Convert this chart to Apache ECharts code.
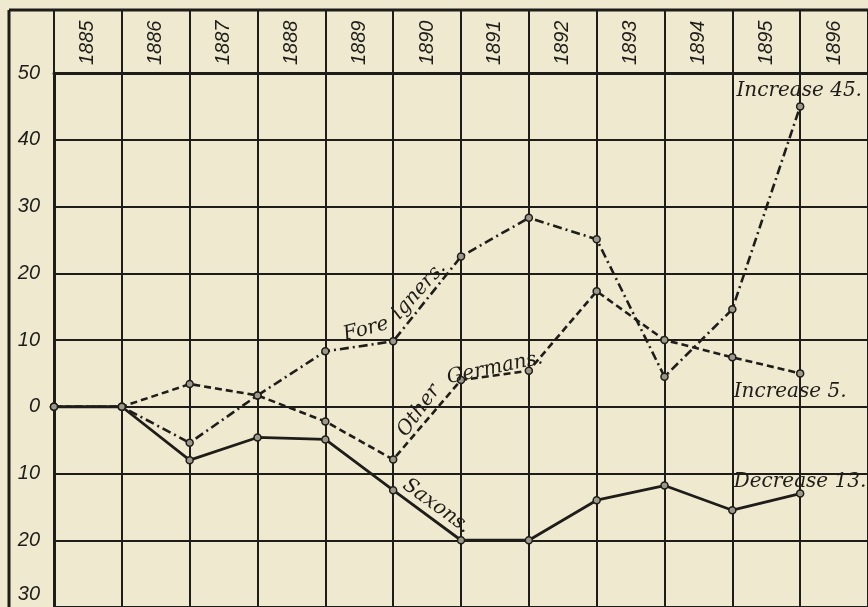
<!DOCTYPE html>
<html>
<head>
<meta charset="utf-8">
<script src="https://cdn.jsdelivr.net/npm/echarts@6/dist/echarts.min.js"></script>
<style>
  html, body { margin: 0; padding: 0; background: #efe9cf; }
  #chart { width: 868px; height: 607px; }
</style>
</head>
<body>
<div id="chart"></div>
<script>
// Yearly change, in thousands, by population group (1885 = 0)
const years = ['1885', '1886', '1887', '1888', '1889', '1890', '1891', '1892', '1893', '1894', '1895', '1896'];
const saxons = [0, 0, -8, -4.6, -4.9, -12.5, -20, -20, -14, -11.8, -15.5, -13];
const otherGermans = [0, 0, 3.4, 1.7, -2.2, -7.9, 4, 5.4, 17.3, 10, 7.4, 5];
const foreigners = [0, 0, -5.4, 1.7, 8.3, 9.8, 22.5, 28.3, 25.1, 4.5, 14.6, 45];
const yMin = -30, yMax = 50, yStep = 10;

const ink = '#1f1d19';
const paper = '#efe9cf';
const serifItalic = { fontFamily: 'DejaVu Serif', fontStyle: 'italic', fontSize: 20, color: ink };

const toPoints = arr => arr.map((v, i) => [i, v]);

// Text written along the lines, placed in data space
function note(text, x, y, rotate, position) {
  return {
    name: text,
    coord: [x, y],
    symbol: 'circle',
    symbolSize: 0,
    label: Object.assign({
      show: true,
      formatter: '{b}',
      position: position || 'inside',
      distance: 0,
      rotate: rotate || 0
    }, serifItalic)
  };
}

const markerStyle = { color: '#9c998b', borderColor: ink, borderWidth: 1.5 };

const chart = echarts.init(document.getElementById('chart'), null, { renderer: 'canvas' });
chart.setOption({
  backgroundColor: paper,
  animation: false,
  grid: { left: 54, top: 73, right: -3, bottom: -4 },
  xAxis: [
    {
      type: 'value', min: 0, max: years.length, interval: 1,
      axisLine: { show: false }, axisTick: { show: false }, axisLabel: { show: false },
      splitLine: { show: true, lineStyle: { color: ink, width: 2 } }
    },
    {
      type: 'category', data: years, position: 'top', boundaryGap: true,
      axisLine: { show: true, lineStyle: { color: ink, width: 3 } },
      axisTick: { show: true, length: 63, lineStyle: { color: ink, width: 2 } },
      axisLabel: {
        interval: 0, rotate: -90, margin: 8,
        fontFamily: 'Liberation Sans', fontStyle: 'italic', fontSize: 20, color: ink
      }
    }
  ],
  yAxis: {
    type: 'value', min: yMin, max: yMax, interval: yStep,
    axisLine: { show: true, lineStyle: { color: ink, width: 3 } },
    axisTick: { show: false },
    splitLine: { show: true, lineStyle: { color: ink, width: 2 } },
    axisLabel: {
      margin: 14,
      fontFamily: 'Liberation Sans', fontStyle: 'italic', fontSize: 20, color: ink,
      formatter: v => v === yMin ? '{low|' + Math.abs(v) + '}' : String(Math.abs(v)),
      rich: {
        low: {
          fontFamily: 'Liberation Sans', fontStyle: 'italic', fontSize: 20, color: ink,
          padding: [0, 0, 26, 0]
        }
      }
    }
  },
  graphic: [
    { type: 'line', shape: { x1: 9, y1: 10, x2: 868, y2: 10 }, style: { stroke: ink, lineWidth: 3 }, z: 10 },
    { type: 'line', shape: { x1: 9, y1: 10, x2: 9, y2: 607 }, style: { stroke: ink, lineWidth: 3 }, z: 10 }
  ],
  series: [
    {
      name: 'Saxons', type: 'line', data: toPoints(saxons),
      symbol: 'circle', symbolSize: 7, itemStyle: markerStyle,
      lineStyle: { color: ink, width: 2.8, type: 'solid' },
      z: 5,
      markPoint: {
        data: [
          note('Saxons.', 5.64, -14.9, -36),
          note('Decrease 13.', 10.02, -11.2, 0, 'right')
        ]
      }
    },
    {
      name: 'Other Germans', type: 'line', data: toPoints(otherGermans),
      symbol: 'circle', symbolSize: 7, itemStyle: markerStyle,
      lineStyle: { color: ink, width: 2.6, type: [7, 4] },
      z: 4,
      markPoint: {
        data: [
          note('Other', 5.38, -0.6, 54),
          note('Germans.', 6.5, 5.8, 12),
          note('Increase 5.', 10.02, 2.2, 0, 'right')
        ]
      }
    },
    {
      name: 'Foreigners', type: 'line', data: toPoints(foreigners),
      symbol: 'circle', symbolSize: 7, itemStyle: markerStyle,
      lineStyle: { color: ink, width: 2.6, type: [9, 4, 2, 4] },
      z: 3,
      markPoint: {
        data: [
          note('Fore', 4.6, 11.6, 15),
          note('igners.', 5.38, 17.4, 48),
          note('Increase 45.', 10.06, 47.4, 0, 'right')
        ]
      }
    }
  ]
});
</script>
</body>
</html>
